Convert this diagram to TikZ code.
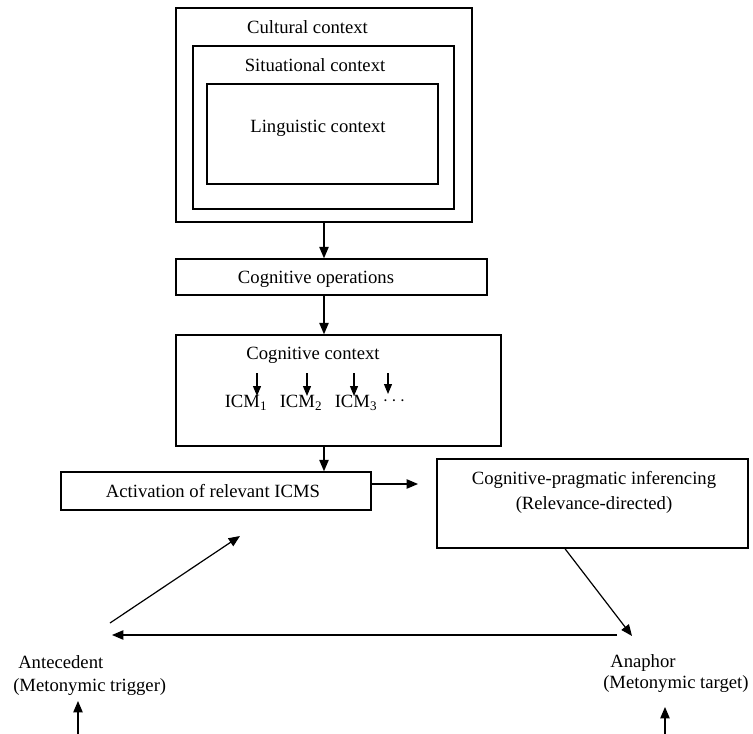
\documentclass[tikz,border=0pt]{standalone}
\usepackage{fontspec}
\setmainfont{Liberation Serif}
\usetikzlibrary{arrows.meta}
\def\px{0.75pt}
\tikzset{
  box/.style={draw, line width=1.1pt, rectangle, inner sep=0pt},
  lbl/.style={font=\fontsize{14}{17}\selectfont, inner sep=0pt},
  arr/.style={-{Triangle[length=8.5pt,width=7pt]}, line width=0.9pt},
  sarr/.style={-{Triangle[length=7.5pt,width=6pt]}, line width=0.9pt},
}
\begin{document}
\begin{tikzpicture}[x=0.75pt,y=-0.75pt]
\useasboundingbox (0,0) rectangle (753,734);
% nested context boxes
\node[box, minimum width=296*\px, minimum height=214*\px] (cult) at (324,115) {};
\node[box, minimum width=261*\px, minimum height=163*\px] (sit) at (323.5,127.5) {};
\node[box, minimum width=231*\px, minimum height=100*\px] (ling) at (322.5,134) {};
\node[lbl] (tcult) at (307.5,27) {Cultural context};
\node[lbl] (tsit) at (315,65) {Situational context};
\node[lbl] (tling) at (318,128) {Linguistic context};
% cognitive operations
\node[box, minimum width=311*\px, minimum height=36*\px] (cogops) at (331.5,277) {};
\node[lbl] (tcogops) at (316,279) {Cognitive operations};
% cognitive context
\node[box, minimum width=325*\px, minimum height=111*\px] (cogctx) at (338.5,390.5) {};
\node[lbl] (tcogctx) at (313,355) {Cognitive context};
\node[lbl] (icm1) at (246,403) {ICM\textsubscript{1}};
\node[lbl] (icm2) at (301,403) {ICM\textsubscript{2}};
\node[lbl] (icm3) at (356,403) {ICM\textsubscript{3}};
\node[lbl] (dots) at (394,401) {\textbf{$\cdots$}};
\coordinate (s1) at (257,373);
\coordinate (s2) at (307,373);
\coordinate (s3) at (354,373);
\coordinate (s4) at (388,373);
\coordinate (e1) at (257,396);
\coordinate (e2) at (307,396);
\coordinate (e3) at (354,396);
\coordinate (e4) at (388,394);
\draw[sarr] (s1) -- (e1);
\draw[sarr] (s2) -- (e2);
\draw[sarr] (s3) -- (e3);
\draw[sarr] (s4) -- (e4);
% activation
\node[box, minimum width=310*\px, minimum height=38*\px] (act) at (216,491) {};
\node[lbl] (tact) at (213,491) {Activation of relevant ICMS};
% cognitive-pragmatic inferencing
\node[box, minimum width=311*\px, minimum height=89*\px] (prag) at (592.5,503.5) {};
\node[lbl] (tprag1) at (594,480) {Cognitive-pragmatic inferencing};
\node[lbl] (tprag2) at (594,505) {(Relevance-directed)};
% antecedent / anaphor
\node[lbl, anchor=west] (ante1) at (18,662) {Antecedent};
\node[lbl, anchor=west] (ante2) at (13,687) {(Metonymic trigger)};
\node[lbl, anchor=west] (ana1) at (610,663) {Anaphor};
\node[lbl, anchor=west] (ana2) at (603,684) {(Metonymic target)};
% vertical flow
\draw[arr] (cult.south) -- (cult.south |- cogops.north);
\draw[arr] (cogops.south -| cult.south) -- (cogctx.north -| cult.south);
\draw[arr] (cogctx.south -| cult.south) -- (act.north -| cult.south);
% activation -> right
\coordinate (ar) at (418,484);
\draw[arr] (act.east |- ar) -- (ar);
% inferencing -> anaphor
\coordinate (pb) at (565,0);
\coordinate (an) at (632,636);
\draw[arr] (prag.south -| pb) -- (an);
% horizontal back to antecedent
\coordinate (h1) at (617,635);
\coordinate (h2) at (112,635);
\draw[arr] (h1) -- (h2);
% antecedent -> activation
\coordinate (d1) at (110,623);
\coordinate (d2) at (240,536);
\draw[arr] (d1) -- (d2);
% bottom arrows
\coordinate (b1) at (78,734);
\coordinate (b2) at (78,701);
\coordinate (b3) at (665,734);
\coordinate (b4) at (665,707);
\draw[arr] (b1) -- (b2);
\draw[arr] (b3) -- (b4);
\end{tikzpicture}
\end{document}
